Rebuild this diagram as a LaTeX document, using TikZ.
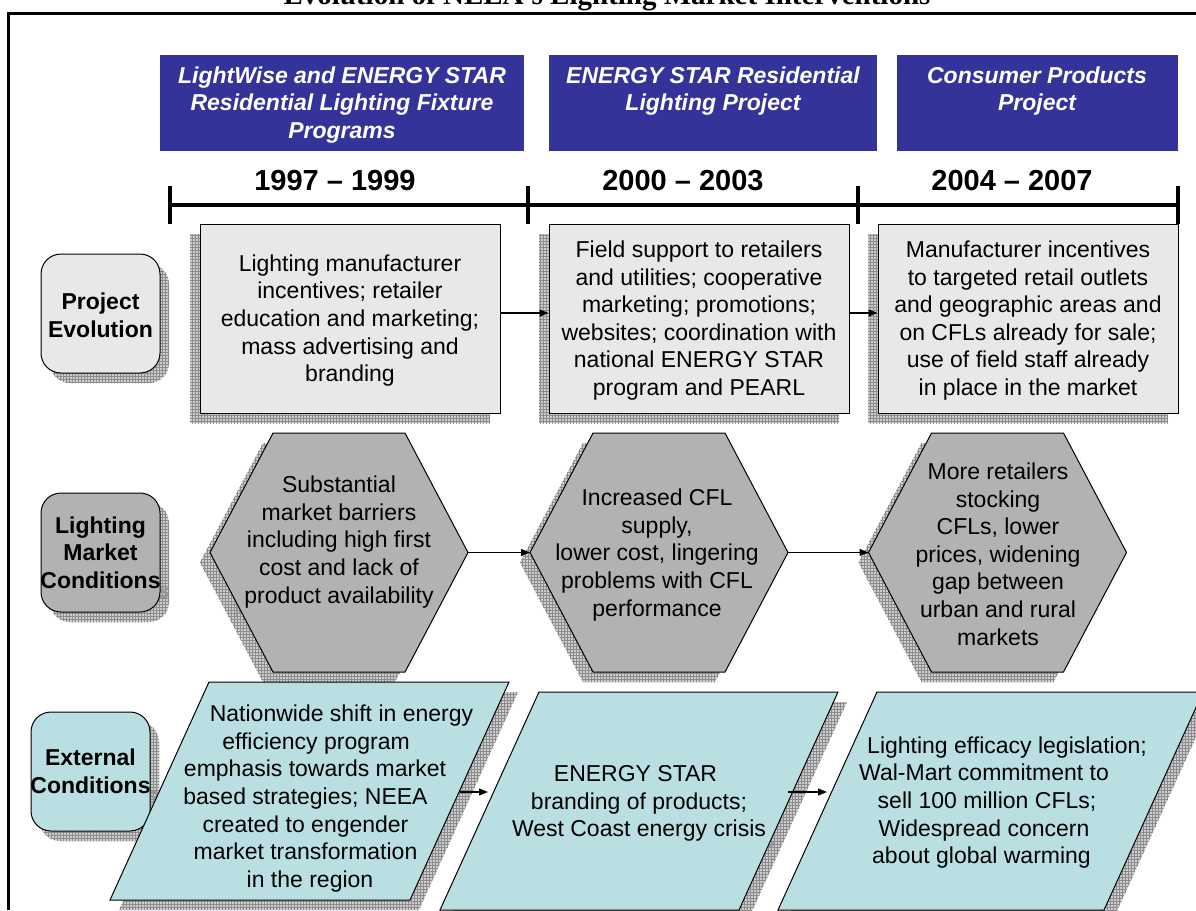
\documentclass[tikz,border=0pt]{standalone}
\usepackage{fontspec}
\setmainfont{Liberation Sans}
\newfontfamily\titlefont{Liberation Serif}
\usetikzlibrary{arrows.meta,patterns}

\definecolor{hdrblue}{RGB}{51,51,153}
\definecolor{boxgray}{RGB}{232,232,232}
\definecolor{hexgray}{RGB}{178,178,178}
\definecolor{paleblue}{RGB}{185,223,227}
\definecolor{shadowbg}{RGB}{205,205,205}
\definecolor{shadowln}{RGB}{140,140,140}
\definecolor{ghostgray}{RGB}{150,150,150}

% outline paths of the three kinds of shapes
\newcommand\hexpath[2]{(#1-129,#2) -- (#1-66,#2-119.5) -- (#1+66,#2-119.5) -- (#1+129,#2) -- (#1+66,#2+119.5) -- (#1-66,#2+119.5) -- cycle}
\newcommand\parapath[3]{(#1,#2) -- (#1+#3,#2) -- (#1+#3-99,#2+218) -- (#1-99,#2+218) -- cycle}
\newcommand\tagpath[2]{(#1,#2) rectangle (#1+119,#2+119)}

\tikzset{
  shadowfill/.style={fill=shadowbg, postaction={pattern=grid, pattern color=shadowln}},
  ghost/.style={text=ghostgray, inner sep=0pt},
  bodytext/.style={font=\fontsize{23}{27.6}\selectfont, align=center, inner sep=0pt},
  labeltext/.style={font=\fontsize{23}{27.6}\selectfont\bfseries, align=center, inner sep=0pt},
  headtext/.style={font=\fontsize{23}{27.6}\selectfont\bfseries\itshape, text=white, align=center, inner sep=0pt, anchor=north},
  yeartext/.style={font=\fontsize{29}{34}\selectfont\bfseries, inner sep=0pt, anchor=base},
  headbox/.style={fill=hdrblue, anchor=north west, inner sep=0pt, minimum height=96pt},
  outline/.style={draw=black, line width=1pt},
  tagbox/.style={outline, rounded corners=20pt},
  ebox/.style={outline, fill=boxgray, minimum width=300pt, minimum height=189pt, inner sep=0pt},
  link/.style={line width=1.2pt, -{Triangle[length=9pt,width=7pt]}},
  rule/.style={line width=3.5pt},
}

\begin{document}
\begin{tikzpicture}[x=1pt,y=-1pt]
\useasboundingbox (0,0) rectangle (1196,910);
\fill[white] (0,0) rectangle (1196,910);

% title and frame
\node[font=\titlefont\fontsize{29}{34}\selectfont\bfseries, anchor=base, inner sep=0pt] (title) at (607,5) {Evolution of NEEA's Lighting Market Interventions};
\draw[rule, line join=miter] (1196,13.5) -- (8.5,13.5) -- (8.5,910);

% project headers
\node[headbox, minimum width=364pt] (hdrA) at (160,55) {};
\node[headbox, minimum width=328pt] (hdrB) at (549,55) {};
\node[headbox, minimum width=281pt] (hdrC) at (897,55) {};
\node[headtext] (hdrAtxt) at (342,66.5) {LightWise and ENERGY STAR\\Residential Lighting Fixture\\Programs};
\node[headtext] (hdrBtxt) at (713,66.5) {ENERGY STAR Residential\\Lighting Project};
\node[headtext] (hdrCtxt) at (1037,66.5) {Consumer Products\\Project};

% timeline
\node[yeartext] (yearA) at (335,190) {1997 – 1999};
\node[yeartext] (yearB) at (683,190) {2000 – 2003};
\node[yeartext] (yearC) at (1012,190) {2004 – 2007};
\coordinate (tA) at (170,205);
\coordinate (tB) at (528,205);
\coordinate (tC) at (858,205);
\coordinate (tD) at (1178,205);
\draw[rule] (tA) -- (tD);
\foreach \t in {tA,tB,tC,tD} \draw[rule] ([yshift=19pt]\t) -- ([yshift=-19pt]\t);

% shadows falling down and to the right
\begin{scope}[shift={(9,10)}]
  \path[shadowfill, rounded corners=20pt] \tagpath{41}{254};
  \path[shadowfill, rounded corners=20pt] \tagpath{41}{493};
  \path[shadowfill, rounded corners=20pt] \tagpath{31}{712};
  \path[shadowfill] \parapath{209}{682}{300};
  \path[shadowfill] \parapath{539}{692}{299};
  \path[shadowfill] \parapath{877}{692}{326};
\end{scope}

% shadows falling down and to the left
\begin{scope}[shift={(-10,10)}]
  \path[shadowfill] (200,224) rectangle (500,413);
  \path[shadowfill] (549,224) rectangle (849,413);
  \path[shadowfill] (878,224) rectangle (1178,413);
  \path[shadowfill] \hexpath{339}{552.5};
  \path[shadowfill] \hexpath{659}{552.5};
  \path[shadowfill] \hexpath{997.5}{552.5};
\end{scope}

% letters of shadowed text that stick out beside their shapes
\node[ghost, labeltext, anchor=base east] (rowBghost) at (169.5,598.4) {s};
\node[ghost, labeltext, anchor=base east] (rowCghost) at (159.5,803.5) {s};
\node[ghost, bodytext, anchor=base west] (mktAghost) at (234.5,613) {p};
\node[ghost, bodytext, anchor=base east] (extBghost) at (775,847) {s};

% row labels
\path[tagbox, fill=boxgray] \tagpath{41}{254};
\path[tagbox, fill=hexgray] \tagpath{41}{493};
\path[tagbox, fill=paleblue] \tagpath{31}{712};
\node[labeltext] (rowA) at (100.5,315) {Project\\Evolution};
\node[labeltext] (rowB) at (100.5,552.5) {Lighting\\Market\\Conditions};
\node[labeltext] (rowC) at (90.5,771.5) {External\\Conditions};

% project evolution
\node[ebox] (evoA) at (350,318.5) {};
\node[ebox] (evoB) at (699,318.5) {};
\node[ebox] (evoC) at (1028,318.5) {};
\node[bodytext] (evoAtxt) at (350,320.5) {Lighting manufacturer\\incentives; retailer\\education and marketing;\\mass advertising and\\branding};
\node[bodytext] (evoBtxt) at (699,320.5) {Field support to retailers\\and utilities; cooperative\\marketing; promotions;\\websites; coordination with\\national ENERGY STAR\\program and PEARL};
\node[bodytext] (evoCtxt) at (1028,320.5) {Manufacturer incentives\\to targeted retail outlets\\and geographic areas and\\on CFLs already for sale;\\use of field staff already\\in place in the market};

% lighting market conditions
\path[outline, fill=hexgray] \hexpath{339}{552.5};
\path[outline, fill=hexgray] \hexpath{659}{552.5};
\path[outline, fill=hexgray] \hexpath{997.5}{552.5};
\node[bodytext] (mktA) at (339,542) {Substantial\\market barriers\\including high first\\cost and lack of\\product availability};
\node[bodytext] (mktB) at (657,555) {Increased CFL\\supply,\\lower cost, lingering\\problems with CFL\\performance};
\node[bodytext] (mktC) at (998,554) {More retailers\\stocking\\CFLs, lower\\prices, widening\\gap between\\urban and rural\\markets};
\coordinate (mktA-e) at (468,552.5);
\coordinate (mktB-w) at (530,552.5);
\coordinate (mktB-e) at (788,552.5);
\coordinate (mktC-w) at (868.5,552.5);

% external conditions
\path[outline, fill=paleblue] \parapath{209}{682}{300};
\path[outline, fill=paleblue] \parapath{539}{692}{299};
\path[outline, fill=paleblue] \parapath{877}{692}{326};
\node[bodytext] (extA) at (305.5,798.5) {\hspace*{72pt}Nationwide shift in energy\\\hspace*{21pt}efficiency program\\\hspace*{19pt}emphasis towards market\\based strategies; NEEA\\created to engender\\market transformation\\\hspace*{9pt}in the region};
\node[bodytext] (extB) at (639,803.7) {ENERGY STAR\hspace*{7pt}\\branding of products;\\West Coast energy crisis};
\node[bodytext] (extC) at (984,802.5) {\hspace*{46pt}Lighting efficacy legislation;\\Wal-Mart commitment to\\\hspace*{6pt}sell 100 million CFLs;\\Widespread concern\\about global warming\hspace*{5pt}};
\coordinate (extA-out) at (460,792);
\coordinate (extB-in) at (488,792);
\coordinate (extB-out) at (788,792);
\coordinate (extC-in) at (827,792);

% connectors
\draw[link] ([yshift=5.5pt]evoA.east) -- ([yshift=5.5pt]evoB.west);
\draw[link] ([yshift=5.5pt]evoB.east) -- ([yshift=5.5pt]evoC.west);
\draw[link] (mktA-e) -- (mktB-w);
\draw[link] (mktB-e) -- (mktC-w);
\draw[link] (extA-out) -- (extB-in);
\draw[link] (extB-out) -- (extC-in);
\end{tikzpicture}
\end{document}
